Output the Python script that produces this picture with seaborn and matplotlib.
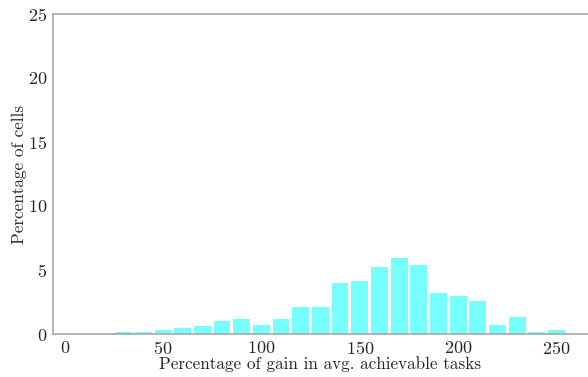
import matplotlib
matplotlib.use("Agg")
import matplotlib.pyplot as plt
import seaborn as sns
import pandas as pd

gain_bins = [30, 40, 50, 60, 70, 80, 90, 100, 110, 120, 130, 140, 150, 160,
             170, 180, 190, 200, 210, 220, 230, 240, 250]
pct_cells = [0.18, 0.18, 0.31, 0.44, 0.60, 1.02, 1.15, 0.70, 1.15, 2.14, 2.14, 3.98, 4.14, 5.26,
             5.96, 5.42, 3.18, 2.99, 2.58, 0.73, 1.33, 0.18, 0.31]
x_ticks = [0, 50, 100, 150, 200, 250]
y_ticks = [0, 5, 10, 15, 20, 25]

sns.set_style("white")
plt.rcParams['font.family'] = ['cmr10', 'DejaVu Sans']
plt.rcParams['axes.formatter.use_mathtext'] = True
plt.rcParams['mathtext.fontset'] = 'cm'

df = pd.DataFrame({"gain": gain_bins, "pct": pct_cells})

fig = plt.figure(figsize=(5.88, 3.77), dpi=100)
ax = fig.add_axes([0.090, 0.114, 0.910, 0.849])
sns.barplot(data=df, x="gain", y="pct", native_scale=True, width=0.85,
            color="#76ffff", saturation=1, edgecolor="none", ax=ax)

ax.set_xlim(-6, 266)
ax.set_ylim(0, 25)
ax.set_xticks(x_ticks)
ax.set_yticks(y_ticks)
ax.set_xlabel("Percentage of gain in avg. achievable tasks", fontsize=12.3, labelpad=0)
ax.set_ylabel("Percentage of cells", fontsize=12.3, labelpad=1)
ax.tick_params(axis='both', labelsize=13, length=2.5, color='#b0b0b0', direction='out', pad=1.5)
for s in ['left', 'bottom', 'top']:
    ax.spines[s].set_color('#a8a8a8')
    ax.spines[s].set_linewidth(1.2)
ax.spines['right'].set_visible(False)

fig.savefig("out.png", dpi=100)
